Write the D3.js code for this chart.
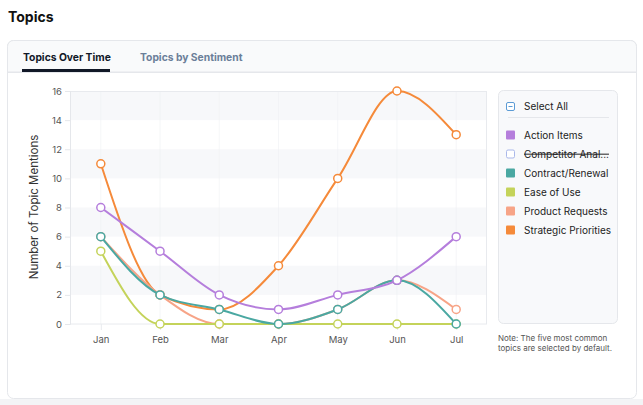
<!DOCTYPE html>
<html><head><meta charset="utf-8">
<script src="https://cdn.jsdelivr.net/npm/d3@7/dist/d3.min.js"></script>
<style>
body{margin:0;background:#fff;font-family:Inter,"Noto Sans",sans-serif;}
svg{display:block;}
</style></head>
<body><svg id="c" width="643" height="405"></svg>
<script>
const months = ["Jan","Feb","Mar","Apr","May","Jun","Jul"];
const topics = ["Action Items","Competitor Anal...","Contract/Renewal","Ease of Use","Product Requests","Strategic Priorities"];
const colors = ["#b57edc","#aab8ea","#4aa8a2","#c4d35a","#f7a487","#f58a3a"];
const enabled = [true,false,true,true,true,true];
const actionItems = [8,5,2,1,2,3,6];
const contractRenewal = [6,2,1,0,1,3,0];
const easeOfUse = [5,0,0,0,0,0,0];
const productRequests = [6,2,0,0,1,3,1];
const strategicPriorities = [11,2,1,4,10,16,13];
const yTicks = [0,2,4,6,8,10,12,14,16];

const series = [
  {name:"Action Items", values:actionItems, color:colors[0]},
  {name:"Contract/Renewal", values:contractRenewal, color:colors[2]},
  {name:"Ease of Use", values:easeOfUse, color:colors[3]},
  {name:"Product Requests", values:productRequests, color:colors[4]},
  {name:"Strategic Priorities", values:strategicPriorities, color:colors[5]}
];

const svg = d3.select("#c");
svg.append("rect").attr("x",0).attr("y",399).attr("width",643).attr("height",6).attr("fill","#f3f4f6");
svg.append("text").attr("x",8).attr("y",22).attr("font-size",14).attr("font-weight",700).attr("fill","#111").text("Topics");

// card
svg.append("rect").attr("x",7.5).attr("y",40.5).attr("width",629).attr("height",358).attr("rx",6)
  .attr("fill","#fff").attr("stroke","#e5e7eb");
svg.append("path").attr("d","M7.5,72 V46.5 a6,6 0 0 1 6,-6 H630.5 a6,6 0 0 1 6,6 V72 Z").attr("fill","#f9fafb").attr("stroke","#e5e7eb");
svg.append("line").attr("x1",8).attr("x2",636).attr("y1",72.5).attr("y2",72.5).attr("stroke","#e5e7eb");
svg.append("text").attr("x",23).attr("y",61).attr("font-size",10.3).attr("font-weight",700).attr("fill","#111827").text("Topics Over Time");
svg.append("rect").attr("x",22).attr("y",69).attr("width",88).attr("height",3).attr("fill","#111827");
svg.append("text").attr("x",140).attr("y",61).attr("font-size",10.3).attr("font-weight",700).attr("fill","#6b7f99").text("Topics by Sentiment");

// scales
const x = d3.scalePoint().domain(months).range([70,487]).padding(0.52);
const y = d3.scaleLinear().domain([0,16]).range([324,91]);

const g = svg.append("g");
for (let i=0;i<yTicks.length-1;i++){
  const a=yTicks[i], b=yTicks[i+1];
  if (i%2===1) g.append("rect").attr("x",70).attr("width",417).attr("y",y(b)).attr("height",y(a)-y(b)).attr("fill","#f7f8fa");
}
g.selectAll(".vg").data(months).enter().append("line")
  .attr("x1",d=>x(d)).attr("x2",d=>x(d)).attr("y1",91).attr("y2",324).attr("stroke","#eef0f3").attr("stroke-width",0.6);
g.append("rect").attr("x",70.5).attr("y",91.5).attr("width",416).attr("height",232.5).attr("fill","none").attr("stroke","#e8eaee");

const yAx = svg.append("g").attr("transform","translate(70,0)")
  .call(d3.axisLeft(y).tickValues(yTicks).tickSize(5).tickPadding(3));
yAx.select(".domain").attr("stroke","#e5e7eb");
yAx.selectAll(".tick line").attr("stroke","#e5e7eb");
yAx.selectAll("text").attr("font-size",9.5).attr("fill","#555").attr("font-family","Inter,sans-serif");
const xAx = svg.append("g").attr("transform","translate(0,324)")
  .call(d3.axisBottom(x).tickSize(6).tickPadding(6));
xAx.select(".domain").remove();
xAx.selectAll(".tick line").attr("stroke","#e8eaee");
xAx.selectAll("text").attr("font-size",9.5).attr("fill","#555").attr("font-family","Inter,sans-serif");

svg.append("text").attr("transform","translate(38,207) rotate(-90)").attr("text-anchor","middle")
  .attr("font-size",11.5).attr("fill","#333").text("Number of Topic Mentions");

const line = d3.line().x((d,i)=>x(months[i])).y(d=>y(d)).curve(d3.curveMonotoneX);
series.slice().reverse().forEach(s=>{
  const sg = svg.append("g");
  sg.append("path").attr("d",line(s.values)).attr("fill","none").attr("stroke",s.color).attr("stroke-width",2);
  sg.selectAll("circle").data(s.values).enter().append("circle")
    .attr("cx",(d,i)=>x(months[i])).attr("cy",d=>y(d)).attr("r",4)
    .attr("fill","#fff").attr("stroke",s.color).attr("stroke-width",1.5);
});

// legend
svg.append("rect").attr("x",498.5).attr("y",90.5).attr("width",119).attr("height",233).attr("rx",5)
  .attr("fill","#f8f9fb").attr("stroke","#e5e7eb");
svg.append("rect").attr("x",506.5).attr("y",102.5).attr("width",8).attr("height",8).attr("rx",1.5)
  .attr("fill","#fff").attr("stroke","#5b9bd5");
svg.append("line").attr("x1",508.5).attr("x2",512.5).attr("y1",106.5).attr("y2",106.5).attr("stroke","#5b9bd5");
svg.append("text").attr("x",524).attr("y",110).attr("font-size",10).attr("fill","#222").text("Select All");
svg.append("line").attr("x1",508).attr("x2",609).attr("y1",117.5).attr("y2",117.5).attr("stroke","#e5e7eb");
topics.forEach((t,i)=>{
  const cy = 135 + i*19;
  if (enabled[i]) {
    svg.append("rect").attr("x",506).attr("y",cy-4.5).attr("width",9).attr("height",9).attr("rx",1).attr("fill",colors[i]);
  } else {
    svg.append("rect").attr("x",506.5).attr("y",cy-4).attr("width",8).attr("height",8).attr("rx",1.5).attr("fill","#fff").attr("stroke",colors[i]);
  }
  const tx = svg.append("text").attr("x",524).attr("y",cy+3.5).attr("font-size",10).attr("fill","#222").text(t);
  if (!enabled[i]) tx.attr("text-decoration","line-through");
});
svg.append("text").attr("x",498).attr("y",341).attr("font-size",8).attr("fill","#555").text("Note: The five most common");
svg.append("text").attr("x",498).attr("y",351).attr("font-size",8).attr("fill","#555").text("topics are selected by default.");
</script></body></html>
